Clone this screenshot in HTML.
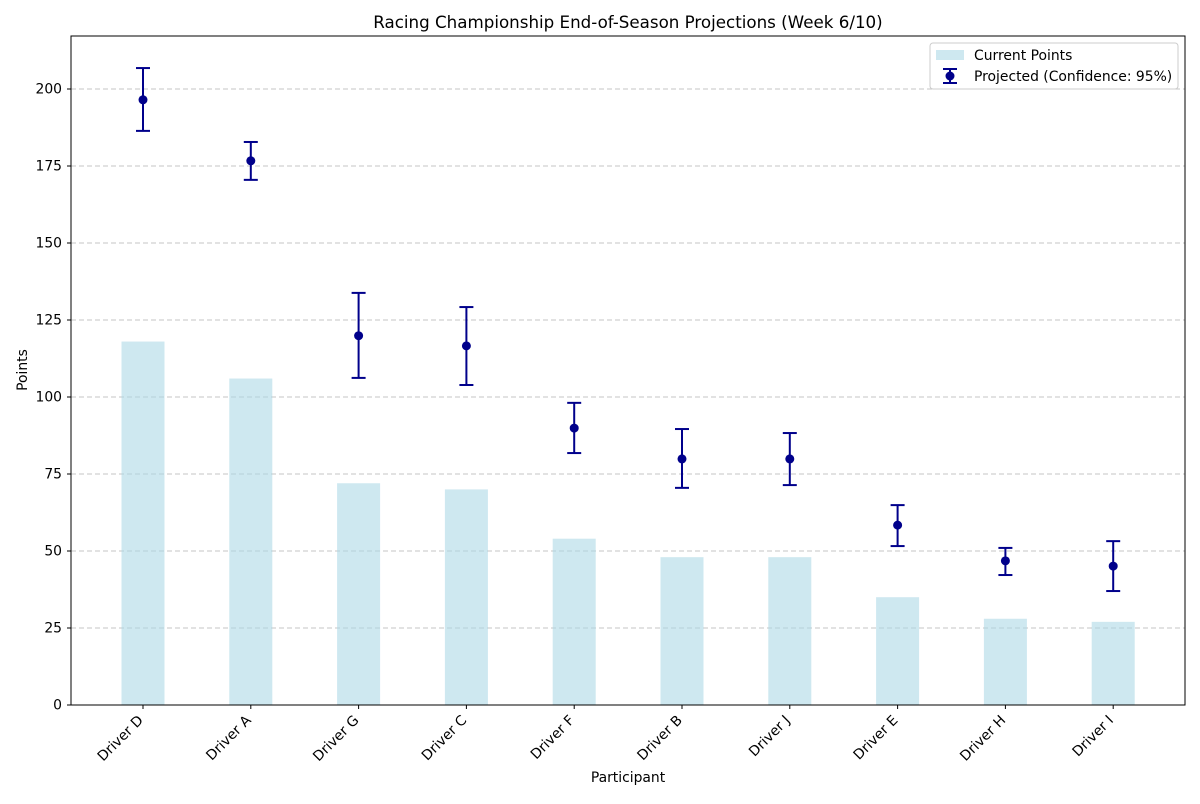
<!DOCTYPE html>
<html><head><meta charset="utf-8"><style>
body{margin:0;background:#fff;font-family:"DejaVu Sans","Liberation Sans",sans-serif;}
</style></head><body>
<svg id="chart" width="1200" height="800" viewBox="0 0 1200 800" xmlns="http://www.w3.org/2000/svg" font-family="DejaVu Sans, Liberation Sans, sans-serif">
<rect width="1200" height="800" fill="#fff"/>
<text x="628" y="28" font-size="16.7" text-anchor="middle">Racing Championship End-of-Season Projections (Week 6/10)</text>
<g id="grid"></g><g id="bars"></g><g id="errs"></g><g id="axes"></g>
<text x="628" y="782" font-size="13.9" text-anchor="middle">Participant</text>
<text x="27" y="370" font-size="13.9" text-anchor="middle" transform="rotate(-90 27 370)">Points</text>
<g>
<rect x="930" y="43" width="248" height="46" fill="#fff" stroke="#ccc" rx="3"/>
<rect x="936" y="50" width="28" height="10" fill="#add8e6" opacity="0.6"/>
<text x="974" y="60" font-size="13.9">Current Points</text>
<line x1="950" y1="69" x2="950" y2="83" stroke="#00008b" stroke-width="2"/>
<line x1="943" y1="69" x2="957" y2="69" stroke="#00008b" stroke-width="2"/>
<line x1="943" y1="83" x2="957" y2="83" stroke="#00008b" stroke-width="2"/>
<circle cx="950" cy="76" r="4.5" fill="#00008b"/>
<text x="974" y="81" font-size="13.9">Projected (Confidence: 95%)</text>
</g>
</svg>
<script>
const categories=["Driver D","Driver A","Driver G","Driver C","Driver F","Driver B","Driver J","Driver E","Driver H","Driver I"];
const currentPoints=[118,106,72,70,54,48,48,35,28,27];
const projected=[196.5,176.7,119.9,116.6,89.9,79.9,79.9,58.4,46.8,45.1];
const upper=[206.8,182.8,133.8,129.2,98.1,89.6,88.3,64.9,51,53.2];
const lower=[186.4,170.5,106.2,103.9,81.8,70.5,71.4,51.6,42.2,37];
const yTicks=[0,25,50,75,100,125,150,175,200];
const L=71,R=1185,T=36,B=705;
const ys=v=>B-v*3.08;
const xs=i=>143+i*107.8;
const NS="http://www.w3.org/2000/svg";
function mk(p,tag,a){const e=document.createElementNS(NS,tag);for(const k in a)e.setAttribute(k,a[k]);document.getElementById(p).appendChild(e);return e;}
yTicks.forEach(t=>{
 const g=mk("grid","line",{x1:L,x2:R,y1:ys(t),y2:ys(t),stroke:"#c4c4c4","stroke-dasharray":"5,3","stroke-width":1});
 
 
 mk("axes","line",{x1:L-4,x2:L,y1:ys(t),y2:ys(t),stroke:"#000"});
 const tx=mk("axes","text",{x:L-9,y:ys(t)+4.5,"font-size":13.9,"text-anchor":"end"});tx.textContent=t;
 
 
});
categories.forEach((c,i)=>{
 const x=xs(i);
 const b=mk("bars","rect",{x:x-21.5,y:ys(currentPoints[i]),width:43,height:B-ys(currentPoints[i]),fill:"#add8e6",opacity:0.6});
 
 
 const st={stroke:"#00008b","stroke-width":2};
 mk("errs","line",Object.assign({x1:x,x2:x,y1:ys(upper[i]),y2:ys(lower[i])},st));
 mk("errs","line",Object.assign({x1:x-7,x2:x+7,y1:ys(upper[i]),y2:ys(upper[i])},st));
 mk("errs","line",Object.assign({x1:x-7,x2:x+7,y1:ys(lower[i]),y2:ys(lower[i])},st));
 const p=mk("errs","circle",{cx:x,cy:ys(projected[i]),r:4.5,fill:"#00008b"});
 
 
 mk("axes","line",{x1:x,x2:x,y1:B,y2:B+4,stroke:"#000"});
 const tx=mk("axes","text",{x:x+1,y:B+16,"font-size":13.9,"text-anchor":"end",transform:`rotate(-45 ${x+1} ${B+16})`});tx.textContent=c;
 
 
});
const f=mk("axes","rect",{x:L,y:T,width:R-L,height:B-T,fill:"none",stroke:"#000","stroke-width":1});


</script>
</body></html>
